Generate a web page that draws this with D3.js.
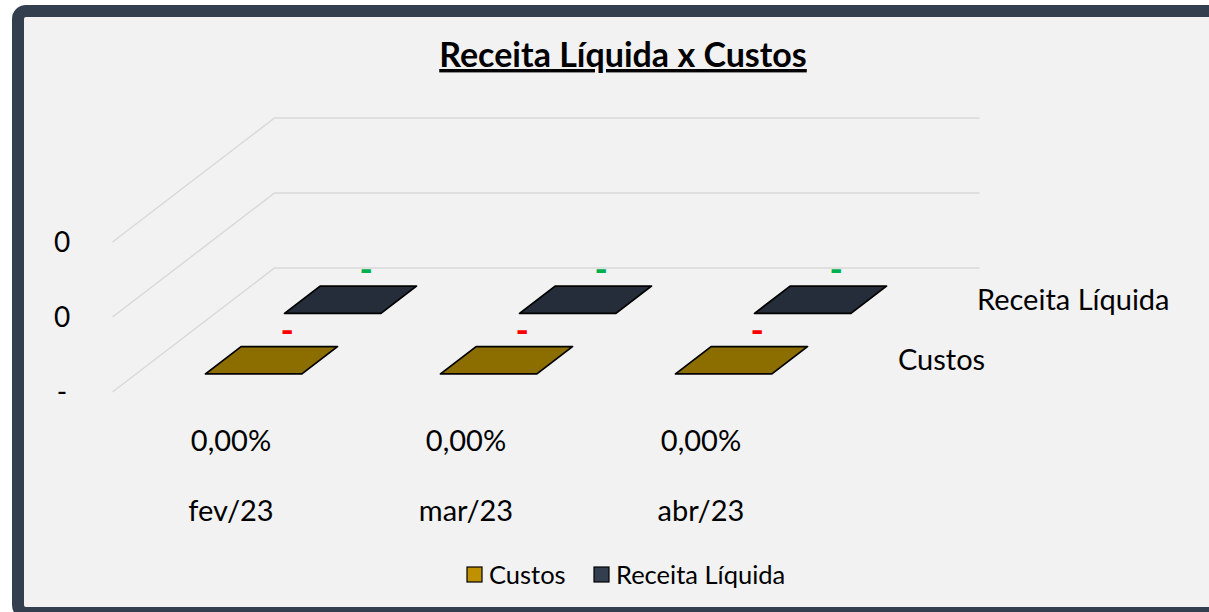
<!DOCTYPE html>
<html>
<head>
<meta charset="utf-8">
<script src="https://cdn.jsdelivr.net/npm/d3@7"></script>
<style>
  html, body { margin: 0; padding: 0; background: #ffffff; }
  svg { display: block; font-family: Lato, "Liberation Sans", sans-serif; }
</style>
</head>
<body>
<svg width="1209" height="612"></svg>
<script>
// chart data
const categories = ["fev/23", "mar/23", "abr/23"];
const percentLabels = ["0,00%", "0,00%", "0,00%"];
const series = ["Custos", "Receita Líquida"];
const custos = [0, 0, 0];
const receita = [0, 0, 0];
const yTicks = [0, 0.0001, 0.0002];

const topColors = { "Custos": "#8c6d00", "Receita Líquida": "#252d3a" };
const legendColors = { "Custos": "#bf9000", "Receita Líquida": "#333f4f" };
const labelColors = { "Custos": "#ff0000", "Receita Líquida": "#00b050" };

const svg = d3.select("svg");
const width = +svg.attr("width");
const height = +svg.attr("height");

// frame
svg.append("rect")
  .attr("x", 18).attr("y", 11)
  .attr("width", width + 40).attr("height", 602)
  .attr("rx", 8)
  .attr("fill", "#f2f2f2")
  .attr("stroke", "#333f4f")
  .attr("stroke-width", 12);

// title
svg.append("text")
  .attr("x", 623).attr("y", 67)
  .attr("text-anchor", "middle")
  .attr("font-size", 34)
  .attr("font-weight", "bold")
  .attr("text-decoration", "underline")
  .attr("fill", "#000")
  .text("Receita Líquida x Custos");

// 3d projection: front plane + depth offset
const depthDx = 162, depthDy = -124;

const x = d3.scaleBand()
  .domain(categories)
  .range([112.5, 817.5])
  .paddingInner(0.59)
  .paddingOuter(0.295);

const y = d3.scaleLinear()
  .domain([0, 0.0002])
  .range([392, 242]);

const z = d3.scaleBand()
  .domain(series)
  .range([0, 1])
  .paddingInner(0.55)
  .paddingOuter(0.3);

const proj = (px, py, t) => [px + t * depthDx, py + t * depthDy];

// gridlines (floor/wall)
const x0 = x.range()[0], x1 = x.range()[1];
svg.append("g")
  .selectAll("path")
  .data(yTicks)
  .join("path")
  .attr("d", (d) => {
    const a = proj(x0, y(d), 0);
    const b = proj(x0, y(d), 1);
    const c = proj(x1, y(d), 1);
    return d3.line()([a, b, c]);
  })
  .attr("fill", "none")
  .attr("stroke", "#d9d9d9")
  .attr("stroke-width", 1.5);

// y axis labels
const fmt = (d) => (d === 0 ? "-" : d3.format(".0f")(d));
svg.append("g")
  .selectAll("text")
  .data(yTicks)
  .join("text")
  .attr("x", 62)
  .attr("y", (d) => y(d))
  .attr("dy", "0.35em")
  .attr("text-anchor", "middle")
  .attr("font-size", 28)
  .attr("fill", "#000")
  .text(fmt);

// bars (zero height -> only top face)
const rows = [];
series.forEach((s, si) => {
  const vals = si === 0 ? custos : receita;
  categories.forEach((c, ci) => rows.push({ s, c, v: vals[ci] }));
});

// back series first
const order = rows.slice().sort((a, b) => series.indexOf(b.s) - series.indexOf(a.s));

svg.append("g")
  .selectAll("path")
  .data(order)
  .join("path")
  .attr("d", (d) => {
    const xl = x(d.c), xr = x(d.c) + x.bandwidth();
    const t0 = z(d.s), t1 = z(d.s) + z.bandwidth();
    const py = y(d.v);
    return d3.line()([proj(xl, py, t0), proj(xr, py, t0), proj(xr, py, t1), proj(xl, py, t1)]) + "Z";
  })
  .attr("fill", (d) => topColors[d.s])
  .attr("stroke", "#000")
  .attr("stroke-width", 1.8)
  .attr("stroke-linejoin", "round");

// data labels
svg.append("g")
  .selectAll("text")
  .data(order)
  .join("text")
  .attr("x", (d) => proj(x(d.c) + x.bandwidth() / 2, y(d.v), z(d.s) + z.bandwidth())[0] - 2)
  .attr("y", (d) => proj(x(d.c) + x.bandwidth() / 2, y(d.v), z(d.s) + z.bandwidth())[1] - 4)
  .attr("text-anchor", "middle")
  .attr("font-size", 36)
  .attr("font-weight", "bold")
  .attr("fill", (d) => labelColors[d.s])
  .text((d) => (d.v === 0 ? "-" : d.v));

// category axis labels
const xAxis = svg.append("g");
xAxis.selectAll("text.pct")
  .data(categories)
  .join("text")
  .attr("class", "pct")
  .attr("x", (d) => x(d) + x.bandwidth() / 2 + 1)
  .attr("y", 451)
  .attr("text-anchor", "middle")
  .attr("font-size", 29)
  .attr("fill", "#000")
  .text((d, i) => percentLabels[i]);

xAxis.selectAll("text.cat")
  .data(categories)
  .join("text")
  .attr("class", "cat")
  .attr("x", (d) => x(d) + x.bandwidth() / 2 + 1)
  .attr("y", 521)
  .attr("text-anchor", "middle")
  .attr("font-size", 29)
  .attr("fill", "#000")
  .text((d) => d);

// depth axis labels
svg.append("g")
  .selectAll("text")
  .data(series)
  .join("text")
  .attr("x", (d) => proj(x1, y(0), z(d) + z.bandwidth() / 2)[0] + 39)
  .attr("y", (d) => proj(x1, y(0), z(d) + z.bandwidth() / 2)[1])
  .attr("dy", "0.35em")
  .attr("font-size", 29)
  .attr("fill", "#000")
  .text((d) => d);

// legend
const legendItems = [
  { name: "Custos", x: 467 },
  { name: "Receita Líquida", x: 594 }
];
const legend = svg.append("g").attr("transform", "translate(0,567)");
legend.selectAll("rect")
  .data(legendItems)
  .join("rect")
  .attr("x", (d) => d.x)
  .attr("y", 0)
  .attr("width", 15).attr("height", 15)
  .attr("fill", (d) => legendColors[d.name])
  .attr("stroke", "#000")
  .attr("stroke-width", 1.2);
legend.selectAll("text")
  .data(legendItems)
  .join("text")
  .attr("x", (d) => d.x + 22)
  .attr("y", 8)
  .attr("dy", "0.35em")
  .attr("font-size", 25.5)
  .attr("fill", "#000")
  .text((d) => d.name);
</script>
</body>
</html>
